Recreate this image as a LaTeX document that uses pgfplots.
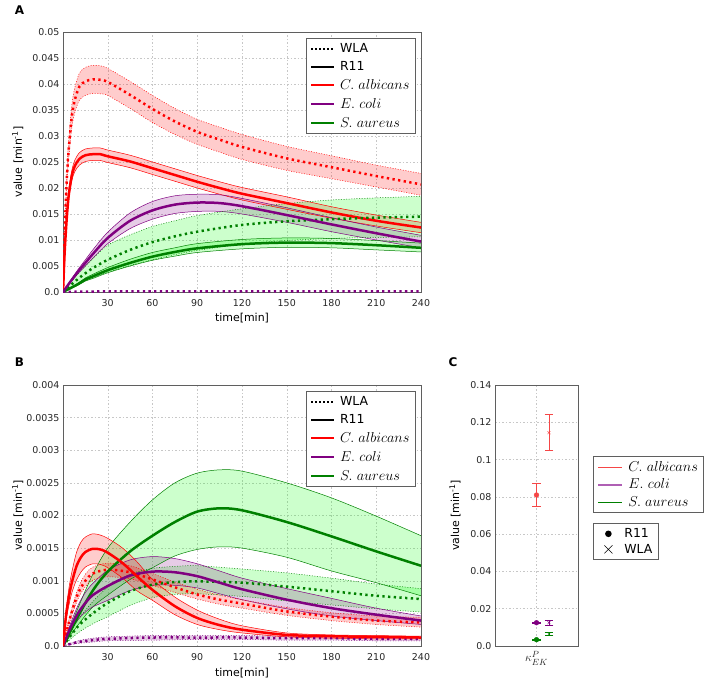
\documentclass[border=0pt]{standalone}
\usepackage{pgfplots}
\pgfplotsset{compat=1.18}
\usepackage{pgfplotstable}
\usepgfplotslibrary{fillbetween}
\usepackage{fontspec}
\setmainfont{DejaVu Sans}

\definecolor{cRed}{RGB}{255,0,0}
\definecolor{cPur}{RGB}{128,0,128}
\definecolor{cGrn}{RGB}{0,128,0}
\definecolor{fGrn}{RGB}{0,255,0}
\definecolor{cRedL}{RGB}{245,70,70}
\definecolor{cPurL}{RGB}{175,95,180}
\definecolor{frm}{RGB}{95,95,95}

% ---------- Panel A data ----------
\pgfplotstableread{
t c lo hi
0 0 0 0
1 0.0100 0.0094 0.0106
2 0.0180 0.0169 0.0191
3 0.0240 0.0225 0.0255
4 0.0280 0.0262 0.0298
6 0.0340 0.0318 0.0362
8 0.0370 0.0346 0.0394
11 0.0395 0.0369 0.0421
15 0.0405 0.0378 0.0432
20 0.0409 0.0382 0.0436
25 0.0408 0.0381 0.0435
30 0.0404 0.0378 0.0430
45 0.0379 0.0353 0.0405
60 0.0352 0.0326 0.0378
75 0.0328 0.0303 0.0353
90 0.0308 0.0284 0.0332
105 0.0293 0.0269 0.0317
120 0.0279 0.0255 0.0303
150 0.0257 0.0234 0.0280
180 0.0240 0.0218 0.0262
210 0.0223 0.0202 0.0244
240 0.0207 0.0186 0.0228
}\tAcaW
\pgfplotstableread{
t c lo hi
0 0 0 0
1 0.0070 0.0067 0.0073
2 0.0120 0.0115 0.0125
3 0.0160 0.0153 0.0167
4 0.0190 0.0182 0.0198
6 0.0225 0.0215 0.0235
8 0.0243 0.0232 0.0254
11 0.0256 0.0244 0.0268
15 0.0263 0.0251 0.0275
20 0.0265 0.0253 0.0277
25 0.0265 0.0253 0.0277
30 0.0261 0.0249 0.0273
45 0.0251 0.0239 0.0263
60 0.0238 0.0226 0.0250
75 0.0225 0.0213 0.0237
90 0.0212 0.0200 0.0224
105 0.0200 0.0188 0.0212
120 0.0189 0.0177 0.0201
150 0.0171 0.0159 0.0183
180 0.0153 0.0142 0.0164
210 0.0137 0.0127 0.0148
240 0.0124 0.0114 0.0134
}\tAcaR
\pgfplotstableread{
t c lo hi
0 0 0 0
5 0.0020 0.0018 0.0022
10 0.0039 0.0035 0.0043
15 0.0056 0.0050 0.0062
20 0.0073 0.0065 0.0081
30 0.0104 0.0093 0.0115
45 0.0137 0.0122 0.0152
60 0.0157 0.0140 0.0174
75 0.0168 0.0151 0.0185
90 0.0172 0.0155 0.0188
105 0.0171 0.0155 0.0187
120 0.0165 0.0150 0.0180
150 0.0148 0.0134 0.0162
180 0.0130 0.0116 0.0143
210 0.0113 0.0100 0.0125
240 0.0097 0.0085 0.0109
}\tAecR
\pgfplotstableread{
t c lo hi
0 0 0 0
10 0.0025 0.0015 0.0035
15 0.0036 0.0022 0.0050
20 0.0046 0.0028 0.0064
30 0.0062 0.0038 0.0090
45 0.0081 0.0051 0.0110
60 0.0096 0.0062 0.0126
75 0.0107 0.0072 0.0137
90 0.0116 0.0080 0.0147
120 0.0129 0.0092 0.0160
150 0.0136 0.0099 0.0170
180 0.0140 0.0103 0.0177
210 0.0143 0.0105 0.0181
240 0.0145 0.0106 0.0184
}\tAsaW
\pgfplotstableread{
t c lo hi
0 0 0 0
10 0.0015 0.0013 0.0017
15 0.0024 0.0021 0.0027
20 0.0030 0.0026 0.0034
30 0.0042 0.0037 0.0047
45 0.0056 0.0050 0.0063
60 0.0068 0.0061 0.0076
75 0.0077 0.0069 0.0085
90 0.0084 0.0076 0.0093
120 0.0092 0.0083 0.0101
150 0.0095 0.0086 0.0104
180 0.0094 0.0085 0.0103
210 0.0090 0.0081 0.0099
240 0.0085 0.0077 0.0094
}\tAsaR

% ---------- Panel B data ----------
\pgfplotstableread{
t c lo hi
0 0 0 0
2 0.00046 0.00038 0.00054
4 0.00076 0.00063 0.00089
6 0.00098 0.00082 0.00114
9 0.00122 0.00101 0.00143
12 0.00136 0.00113 0.00159
15 0.00144 0.00121 0.00167
20 0.00149 0.00126 0.00172
25 0.00148 0.00125 0.00170
30 0.00143 0.00120 0.00165
40 0.00127 0.00104 0.00150
50 0.00106 0.00084 0.00128
60 0.00086 0.00070 0.00102
75 0.00061 0.00048 0.00075
90 0.00043 0.00033 0.00055
105 0.00032 0.00025 0.00041
120 0.00025 0.00020 0.00031
150 0.00017 0.00014 0.00020
180 0.00015 0.00012 0.00017
210 0.00014 0.00011 0.00016
240 0.00013 0.00011 0.00015
}\tBcaR
\pgfplotstableread{
t c lo hi
0 0 0 0
5 0.00045 0.00040 0.00050
10 0.00080 0.00072 0.00088
15 0.00100 0.00091 0.00110
20 0.00111 0.00101 0.00121
30 0.00117 0.00106 0.00127
45 0.00113 0.00103 0.00123
60 0.00102 0.00093 0.00111
75 0.00090 0.00082 0.00098
90 0.00079 0.00072 0.00087
105 0.00071 0.00064 0.00078
120 0.00065 0.00058 0.00071
150 0.00053 0.00047 0.00059
180 0.00045 0.00039 0.00051
210 0.00039 0.00033 0.00046
240 0.00036 0.00029 0.00044
}\tBcaW
\pgfplotstableread{
t c lo hi
0 0 0 0
5 0.00028 0.00022 0.00034
10 0.00050 0.00040 0.00062
15 0.00066 0.00052 0.00082
20 0.00078 0.00060 0.00096
30 0.00092 0.00070 0.00116
45 0.00108 0.00085 0.00132
60 0.00114 0.00093 0.00137
75 0.00113 0.00093 0.00134
90 0.00107 0.00089 0.00126
105 0.00097 0.00080 0.00115
120 0.00087 0.00071 0.00104
150 0.00071 0.00057 0.00088
180 0.00058 0.00046 0.00073
210 0.00048 0.00039 0.00058
240 0.00039 0.00033 0.00046
}\tBecR
\pgfplotstableread{
t c lo hi
0 0 0 0
10 0.00006 0.00004 0.00008
20 0.00009 0.00006 0.00012
30 0.00011 0.00008 0.00014
60 0.00013 0.00009 0.00016
90 0.00013 0.00010 0.00016
120 0.00013 0.00010 0.00016
150 0.00012 0.00009 0.00015
180 0.00012 0.00009 0.00015
210 0.00011 0.00008 0.00014
240 0.00011 0.00008 0.00014
}\tBecW
\pgfplotstableread{
t c lo hi
0 0 0 0
10 0.00030 0.00020 0.00040
20 0.00050 0.00034 0.00068
30 0.00066 0.00045 0.00090
45 0.00084 0.00062 0.00110
60 0.00094 0.00074 0.00119
75 0.00098 0.00079 0.00122
90 0.00099 0.00080 0.00123
120 0.00097 0.00076 0.00118
150 0.00091 0.00069 0.00112
180 0.00084 0.00063 0.00104
210 0.00077 0.00057 0.00095
240 0.00072 0.00052 0.00088
}\tBsaW
\pgfplotstableread{
t c lo hi
0 0 0 0
10 0.00045 0.00032 0.00058
20 0.00085 0.00060 0.00110
30 0.00114 0.00078 0.00150
45 0.00145 0.00102 0.00190
60 0.00169 0.00120 0.00224
75 0.00190 0.00138 0.00250
90 0.00206 0.00148 0.00265
105 0.00211 0.00152 0.00270
120 0.00208 0.00150 0.00268
150 0.00190 0.00136 0.00250
180 0.00168 0.00115 0.00227
210 0.00145 0.00097 0.00199
240 0.00123 0.00077 0.00169
}\tBsaR

\newcommand{\spname}[1]{{\fontsize{13.5}{14}\selectfont$#1$}}

\pgfplotsset{
  edgeW/.style={smooth, line width=0.5bp, dash pattern=on 1bp off 1.6bp},
  edgeR/.style={smooth, line width=0.5bp},
  centerW/.style={smooth, line width=2.5bp, dash pattern=on 2.3bp off 3.4bp},
  centerR/.style={smooth, line width=2.5bp},
  errstyle/.style={only marks, forget plot,
    error bars/y dir=both, error bars/y explicit,
    error bars/error bar style={line width=0.8bp, solid},
    error bars/error mark options={rotate=90, mark size=4.3bp, line width=0.8bp}},
  legbase/.style={draw=frm, line width=0.9bp,
      font=\fontsize{12.5}{14}\selectfont, cells={anchor=west},
      inner xsep=4bp, inner ysep=3bp, row sep=3.5bp, column sep=3bp},
  panel/.style={
    scale only axis, width=358bp,
    xmin=0, xmax=240, xtick={30,60,90,120,150,180,210,240},
    scaled ticks=false,
    grid=major,
    grid style={draw=black!22, line width=0.5bp, dash pattern=on 1.5bp off 2bp},
    axis line style={draw=frm, line width=0.9bp},
    major tick length=0pt,
    tick label style={font=\fontsize{9.5}{11}\selectfont, text=black!85},
    xticklabel style={yshift=-3.5bp},
    label style={font=\fontsize{11}{13}\selectfont},
    /pgf/number format/assume math mode=true,
    xlabel={time[min]},
    ylabel={value [min\textsuperscript{-1}]},
    ylabel style={at={(axis description cs:-0.126,0.5)}, anchor=center},
    legend style={legbase, at={(0.986,0.977)}, anchor=north east},
    legend image code/.code={\draw[##1, line width=1.9bp] (0bp,0bp) -- (23bp,0bp);},
  },
}

% #1 table, #2 name, #3 line colour, #4 fill colour, #5 W/R
\newcommand{\bandfill}[5]{%
  \addplot[draw=#3, edge#5, name path=#2lo, forget plot] table[x=t,y=lo]{#1};
  \addplot[draw=#3, edge#5, name path=#2hi, forget plot] table[x=t,y=hi]{#1};
  \addplot[fill=#4, fill opacity=0.2, draw=none, forget plot] fill between[of=#2lo and #2hi];
}
\newcommand{\bandline}[3]{%
  \addplot[draw=#2, center#3, forget plot] table[x=t,y=c]{#1};
}
\newcommand{\speclegend}{%
  \addlegendimage{black, dash pattern=on 1.6bp off 2.4bp}
  \addlegendentry{WLA}
  \addlegendimage{black}
  \addlegendentry{R11}
  \addlegendimage{cRed}
  \addlegendentry{\spname{C.\ albicans}}
  \addlegendimage{cPur}
  \addlegendentry{\spname{E.\ coli}}
  \addlegendimage{cGrn}
  \addlegendentry{\spname{S.\ aureus}}
}

\begin{document}
\begin{tikzpicture}

\node[font=\bfseries\fontsize{12}{13}\selectfont] at (19.5bp,-10bp) {A};
\node[font=\bfseries\fontsize{12}{13}\selectfont] at (19.5bp,-362.5bp) {B};
\node[font=\bfseries\fontsize{12}{13}\selectfont] at (453bp,-362.5bp) {C};

% ---------------- Panel A ----------------
\begin{axis}[panel, height=260bp, at={(63bp,-292bp)}, anchor=south west,
  ymin=0, ymax=0.05,
  ytick={0,0.005,0.01,0.015,0.02,0.025,0.03,0.035,0.04,0.045,0.05},
  yticklabels={0.0,0.005,0.01,0.015,0.02,0.025,0.03,0.035,0.04,0.045,0.05},
  xlabel style={at={(axis description cs:0.5,-0.1)}, anchor=center}]
  \bandfill{\tAcaW}{acw}{cRed}{cRed}{W}
  \bandfill{\tAcaR}{acr}{cRed}{cRed}{R}
  \bandfill{\tAecR}{aer}{cPur}{cPur}{R}
  \bandfill{\tAsaW}{asw}{cGrn}{fGrn}{W}
  \bandfill{\tAsaR}{asr}{cGrn}{fGrn}{R}
  \bandline{\tAcaW}{cRed}{W}
  \bandline{\tAcaR}{cRed}{R}
  \bandline{\tAsaW}{cGrn}{W}
  \bandline{\tAsaR}{cGrn}{R}
  \bandline{\tAecR}{cPur}{R}
  \bandline{\tBecW}{cPur}{W}
  \speclegend
\end{axis}

% ---------------- Panel B ----------------
\begin{axis}[panel, height=261bp, at={(63bp,-646bp)}, anchor=south west,
  ymin=0, ymax=0.004,
  ytick={0,0.0005,0.001,0.0015,0.002,0.0025,0.003,0.0035,0.004},
  yticklabels={0.0,0.0005,0.001,0.0015,0.002,0.0025,0.003,0.0035,0.004},
  xlabel style={at={(axis description cs:0.5,-0.103)}, anchor=center}]
  \bandfill{\tBsaR}{bsr}{cGrn}{fGrn}{R}
  \bandfill{\tBsaW}{bsw}{cGrn}{fGrn}{W}
  \bandfill{\tBecR}{ber}{cPur}{cPur}{R}
  \bandfill{\tBecW}{bew}{cPur}{cPur}{W}
  \bandfill{\tBcaW}{bcw}{cRed}{cRed}{W}
  \bandfill{\tBcaR}{bcr}{cRed}{cRed}{R}
  \bandline{\tBsaW}{cGrn}{W}
  \bandline{\tBecW}{cPur}{W}
  \bandline{\tBcaW}{cRed}{W}
  \bandline{\tBsaR}{cGrn}{R}
  \bandline{\tBecR}{cPur}{R}
  \bandline{\tBcaR}{cRed}{R}
  \speclegend
\end{axis}

% ---------------- Panel C ----------------
\begin{axis}[scale only axis, width=83bp, height=261bp, at={(495bp,-646bp)}, anchor=south west,
  xmin=-1, xmax=1, ymin=0, ymax=0.14,
  scaled ticks=false,
  xtick={0}, xticklabels={$\kappa^{P}_{EK}$},
  ytick={0,0.02,0.04,0.06,0.08,0.1,0.12,0.14},
  yticklabels={0.0,0.02,0.04,0.06,0.08,0.1,0.12,0.14},
  grid=major,
  grid style={draw=black!22, line width=0.5bp, dash pattern=on 1.5bp off 2bp},
  axis line style={draw=frm, line width=0.9bp},
  major tick length=0pt,
  tick label style={font=\fontsize{9.5}{11}\selectfont, text=black!85},
  xticklabel style={font=\fontsize{13}{14}\selectfont, yshift=-2bp},
  label style={font=\fontsize{11}{13}\selectfont},
  /pgf/number format/assume math mode=true,
  ylabel={value [min\textsuperscript{-1}]},
  ylabel style={at={(axis description cs:-0.482,0.5)}, anchor=center},
  legend style={legbase, at={(1.18,0.728)}, anchor=north west, row sep=2bp},
  legend image code/.code={\draw[#1] (0bp,0bp) -- (24bp,0bp);},
  ]
  \addplot[errstyle, color=cRedL, mark=*, mark size=2.4bp] coordinates {(0,0.081) +- (0,0.0063)};
  \addplot[errstyle, color=cRedL, mark=x, mark size=2bp] coordinates {(0.3,0.1144) +- (0,0.0096)};
  \addplot[errstyle, color=cPur, mark=*, mark size=2.4bp] coordinates {(0,0.0125) +- (0,0.0004)};
  \addplot[errstyle, color=cPur, mark=x, mark size=2bp] coordinates {(0.3,0.0125) +- (0,0.0013)};
  \addplot[errstyle, color=cGrn, mark=*, mark size=2.4bp] coordinates {(0,0.0034) +- (0,0.0003)};
  \addplot[errstyle, color=cGrn, mark=x, mark size=2bp] coordinates {(0.3,0.0064) +- (0,0.0009)};
  \addlegendimage{cRedL, line width=0.8bp}
  \addlegendentry{\spname{C.\ albicans}}
  \addlegendimage{cPurL, line width=2bp}
  \addlegendentry{\spname{E.\ coli}}
  \addlegendimage{cGrn, line width=0.8bp}
  \addlegendentry{\spname{S.\ aureus}}
\end{axis}

% second legend for panel C
\begin{axis}[scale only axis, width=83bp, height=261bp, at={(495bp,-646bp)}, anchor=south west,
  xmin=0, xmax=1, ymin=0, ymax=1,
  axis line style={draw=none}, xtick=\empty, ytick=\empty,
  legend style={legbase, at={(1.18,0.471)}, anchor=north west, row sep=1bp}]
  \addplot[draw=none, forget plot] coordinates {(0.5,0.5)};
  \addlegendimage{legend image code/.code={\path[draw=none] (0bp,0bp) -- (22bp,0bp); \fill[black, draw=none] (11bp,0bp) circle (3.3bp);}}
  \addlegendentry{R11}
  \addlegendimage{legend image code/.code={\path[draw=none] (0bp,0bp) -- (22bp,0bp); \draw[black, line width=0.6bp] (7bp,-4bp) -- (15bp,4bp) (7bp,4bp) -- (15bp,-4bp);}}
  \addlegendentry{WLA}
\end{axis}

\pgfresetboundingbox
\useasboundingbox (0bp,0bp) rectangle (708bp,-683bp);
\end{tikzpicture}
\end{document}
